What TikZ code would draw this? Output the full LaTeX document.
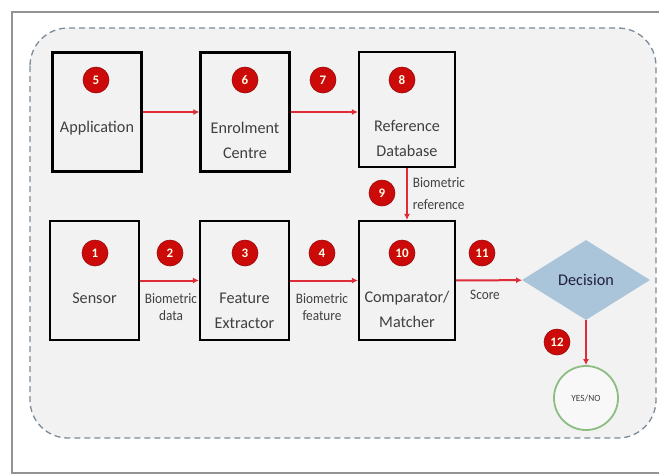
\documentclass[tikz,border=0pt]{standalone}
\usepackage{fontspec}
\setmainfont{Carlito}
\usetikzlibrary{positioning,shapes.geometric,arrows.meta}

\definecolor{numred}{RGB}{205,10,10}
\definecolor{lnred}{RGB}{222,45,55}
\definecolor{txtgray}{RGB}{64,64,64}
\definecolor{panelgray}{RGB}{242,242,242}
\definecolor{dashblue}{RGB}{125,138,152}
\definecolor{decblue}{RGB}{170,196,218}
\definecolor{okgreen}{RGB}{140,190,130}

\tikzset{
	blk/.style={draw=black, line width=2.2pt, fill=panelgray, minimum width=89pt, minimum height=119pt, inner sep=0pt},
	num/.style={circle, fill=numred, draw=numred!75!black, line width=0.6pt, text=white!90!yellow, font=\fontsize{13}{13}\selectfont\bfseries, minimum size=26pt, inner sep=0pt},
	txt/.style={text=txtgray, align=center, font=\fontsize{19}{29}\selectfont, xscale=0.85, yscale=0.86, transform shape},
	small/.style={text=txtgray, align=center, font=\fontsize{17}{20}\selectfont, xscale=0.78, yscale=0.85, transform shape},
	flow/.style={draw=lnred, line width=2pt, -{Latex[length=6pt,width=6pt]}},
}

\begin{document}
\begin{tikzpicture}[x=1pt, y=-1pt]
	\useasboundingbox (0,0) rectangle (659,475);

	% frame and dashed panel
	\draw[gray!85, line width=1.5pt] (12,12) rectangle (680,473);
	\draw[dashblue, line width=1.3pt, dash pattern=on 6pt off 4pt, fill=panelgray, rounded corners=38pt] (30,28) rectangle (656,438);

	% blocks
	\node[blk] (app) at (97, 112) {};
	\node[blk] (enrol) at (245, 112) {};
	\node[blk, minimum width=96pt, minimum height=115pt] (refdb) at (407, 109.5) {};
	\node[blk] (sensor) at (94.5, 280.5) {};
	\node[blk] (feat) at (244.5, 280.5) {};
	\node[blk, minimum width=96pt] (comp) at (407, 280.5) {};

	\node[diamond, fill=decblue, aspect=1.6, minimum width=128pt, minimum height=80pt, inner sep=0pt] (dec) at (586, 280) {};
	\node[circle, draw=okgreen, line width=1.8pt, fill=white!50!panelgray, minimum size=64pt] (yn) at (586, 398) {};

	% block texts
	\node[txt] (apptxt) at (97, 128) {Application};
	\node[txt] (enroltxt) at (245, 140.5) {Enrolment\\Centre};
	\node[txt] (refdbtxt) at (407, 138.5) {Reference\\Database};
	\node[txt] (sensortxt) at (94.5, 298) {Sensor};
	\node[txt] (feattxt) at (244.5, 310.5) {Feature\\Extractor};
	\node[txt] (comptxt) at (407, 309.5) {Comparator/\\Matcher};
	\node[txt, text=txtgray!80!blue!60!black] (dectxt) at (dec) {Decision};
	\node[txt, font=\fontsize{11}{11}\selectfont] (yntxt) at (yn) {YES/NO};

	% connectors
	\draw[flow] (app) -- (enrol);
	\draw[flow] (enrol.east) -- (enrol.east -| refdb.west);
	\draw[flow] (refdb) -- (comp);
	\draw[flow] (sensor) -- (feat);
	\draw[flow] (feat) -- (comp);
	\draw[flow] (comp) -- (dec);
	\draw[flow] (dec) -- (yn);

	% connector labels
	\node[small] (lbldata) at (171, 307) {Biometric\\data};
	\node[small] (lblfeat) at (322, 307) {Biometric\\feature};
	\node[small] (lblscore) at (485, 295) {Score};
	\node[small, font=\fontsize{17}{26}\selectfont, align=left] (lblref) at (439, 194) {Biometric\\reference};

	% step numbers
	\node[num] (n1) at (95, 253) {1};
	\node[num] (n2) at (170, 253) {2};
	\node[num] (n3) at (245, 253) {3};
	\node[num] (n4) at (322, 253) {4};
	\node[num] (n5) at (96, 80) {5};
	\node[num] (n6) at (245, 80) {6};
	\node[num] (n7) at (323, 80) {7};
	\node[num] (n8) at (402, 80) {8};
	\node[num] (n9) at (382, 193) {9};
	\node[num] (n10) at (402, 253) {10};
	\node[num] (n11) at (482, 253) {11};
	\node[num] (n12) at (557, 342) {12};
\end{tikzpicture}
\end{document}
